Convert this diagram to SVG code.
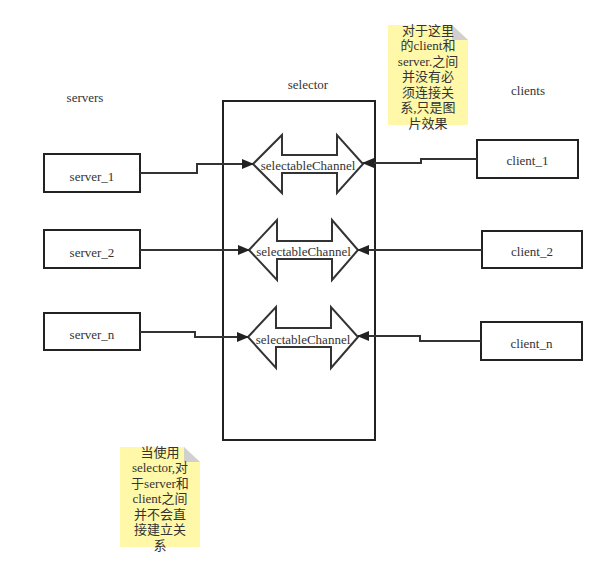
<svg xmlns="http://www.w3.org/2000/svg" width="613" height="572" viewBox="0 0 613 572">
<defs>
<marker id="ah" viewBox="0 0 12 10" refX="11" refY="5" markerWidth="12" markerHeight="10" markerUnits="userSpaceOnUse" orient="auto">
<path d="M0,0 L12,5 L0,10 Z" fill="#222"/>
</marker>
</defs>
<style>
text{font-family:"Liberation Serif","Noto Sans CJK SC",serif;font-size:13px;fill:#333;text-anchor:middle;dominant-baseline:central}
.box{fill:#fff;stroke:#222;stroke-width:2}
.ch{fill:#fff;stroke:#333;stroke-width:2}
.note{fill:#fff8a8}
.fold{fill:#d0d0d0}
.nt{font-size:13px}
.conn{fill:none;stroke:#333;stroke-width:2;marker-end:url(#ah)}
</style>
<rect width="613" height="572" fill="#fff"/>
<text x="85" y="97">servers</text>
<text x="308" y="84">selector</text>
<text x="528" y="90">clients</text>
<g id="selector"><rect class="box" x="223" y="101" width="152" height="339"/></g>
<g id="server_1"><rect class="box" x="44" y="154" width="96" height="38"/><text x="92" y="176">server_1</text></g>
<g id="server_2"><rect class="box" x="44" y="230" width="96" height="38"/><text x="92" y="252">server_2</text></g>
<g id="server_n"><rect class="box" x="44" y="313" width="96" height="37"/><text x="92" y="334">server_n</text></g>
<g id="client_1"><rect class="box" x="477" y="140" width="101" height="38"/><text x="527.5" y="160">client_1</text></g>
<g id="client_2"><rect class="box" x="482" y="231" width="100" height="37"/><text x="532" y="251">client_2</text></g>
<g id="client_n"><rect class="box" x="481" y="322" width="101" height="38"/><text x="531.5" y="343">client_n</text></g>
<g id="channel_1"><polygon class="ch" points="253,164 282,135 282,155 337,155 337,135 363,164 337,193 337,173 282,173 282,193"/><text x="308" y="165">selectableChannel</text></g>
<g id="channel_2"><polygon class="ch" points="249,250 277,220 277,241 332,241 332,220 358,250 332,280 332,259 277,259 277,280"/><text x="303.5" y="251">selectableChannel</text></g>
<g id="channel_n"><polygon class="ch" points="248,337 276,307 276,328 331,328 331,307 358,337 331,368 331,347 276,347 276,368"/><text x="303" y="339">selectableChannel</text></g>
<g id="connectors">
<path class="conn" d="M140,173 H197 V164 H253"/>
<path class="conn" d="M477,159 H421 V163 H363"/>
<path class="conn" d="M140,250 H249"/>
<path class="conn" d="M482,250 H358"/>
<path class="conn" d="M140,332 H195 V337 H248"/>
<path class="conn" d="M481,341 H420 V336 H358"/>
</g>
<g id="note_1">
<path class="note" d="M388,25 H452 L468,40 V125 H388 Z"/>
<path class="fold" d="M452,25 L468,40 H452 Z"/>
<text class="nt" x="428" y="30">对于这里</text>
<text class="nt" x="428" y="45.5">的client和</text>
<text class="nt" x="428" y="61">server.之间</text>
<text class="nt" x="428" y="76.5">并没有必</text>
<text class="nt" x="428" y="92">须连接关</text>
<text class="nt" x="428" y="107.5">系,只是图</text>
<text class="nt" x="428" y="123">片效果</text>
</g>
<g id="note_2">
<path class="note" d="M120,447 H184 L200,462 V547 H120 Z"/>
<path class="fold" d="M184,447 L200,462 H184 Z"/>
<text class="nt" x="160" y="452">当使用</text>
<text class="nt" x="160" y="467.5">selector,对</text>
<text class="nt" x="160" y="483">于server和</text>
<text class="nt" x="160" y="498.5">client之间</text>
<text class="nt" x="160" y="514">并不会直</text>
<text class="nt" x="160" y="529.5">接建立关</text>
<text class="nt" x="160" y="545">系</text>
</g>
</svg>
